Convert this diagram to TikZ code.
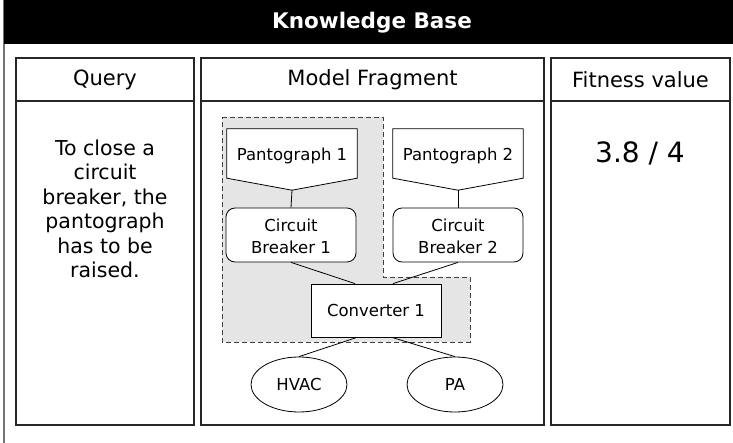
\documentclass[tikz,border=0pt]{standalone}
\usepackage{fontspec}
\setmainfont{DejaVu Sans}
\usetikzlibrary{shapes.geometric,calc}
\begin{document}
\begin{tikzpicture}[x=1pt,y=-1pt,
  panel/.style={draw=black!85,line width=1.2pt},
  hdr/.style={font=\fontsize{21}{24}\selectfont},
  comptext/.style={font=\fontsize{16.5}{22}\selectfont},
  comp/.style={draw,line width=0.8pt,fill=white,comptext,align=center,inner sep=0pt},
  pantobox/.style={minimum width=130pt,minimum height=49pt,inner sep=0pt,comptext},
  pantoshape/.style={line width=0.8pt,fill=white},
  conn/.style={line width=0.8pt},
  region/.style={draw=black!75,dash pattern=on 5pt off 3pt,line width=0.8pt,fill=black!10}
]
\useasboundingbox (0,0) rectangle (733,443);
% outer frame
\draw[draw=black!55,line width=1.5pt] (4,0) rectangle (745,460);
\fill[black] (4,0) rectangle (735,44);
\node[text=white,font=\fontsize{21.5}{24}\selectfont\bfseries] (kb) at (372,23) {Knowledge Base};
% panels
\draw[panel] (16,58) rectangle (194,101);
\draw[panel] (16,101) rectangle (194,425);
\draw[panel] (201,58) rectangle (544,101);
\draw[panel] (201,101) rectangle (544,425);
\draw[panel] (551,58) rectangle (730,101);
\draw[panel] (551,101) rectangle (730,425);
\node[hdr] (hq) at (105,80) {Query};
\node[hdr] (hm) at (372.5,80) {Model Fragment};
\node[hdr] (hf) at (640.5,80) {Fitness value};
\node[font=\fontsize{20.5}{24.5}\selectfont,align=center] (qtext) at (105,209)
  {To close a\\circuit\\breaker, the\\pantograph\\has to be\\raised.};
\node[font=\fontsize{28}{32}\selectfont] (fit) at (640,153) {3.8 / 4};
% region
\draw[region] (222,117) -- (383,117) -- (383,277) -- (470,277) -- (470,342) -- (222,342) -- cycle;
% pantographs
\node[pantobox] (p1) at (292,153.5) {};
\node[pantobox] (p2) at (458,153.5) {};
\coordinate (p1tip) at ($(p1.south)+(0,12)$);
\coordinate (p2tip) at ($(p2.south)+(0,12)$);
\draw[pantoshape] (p1.north west) -- (p1.north east) -- (p1.south east) -- (p1tip) -- (p1.south west) -- cycle;
\draw[pantoshape] (p2.north west) -- (p2.north east) -- (p2.south east) -- (p2tip) -- (p2.south west) -- cycle;
\node[pantobox] (p1t) at (292,156) {Pantograph 1};
\node[pantobox] (p2t) at (458,156) {Pantograph 2};
% breakers
\node[comp,rounded corners=9pt,minimum width=130pt,minimum height=54pt] (cb1) at (291,235) {};
\node[comp,rounded corners=9pt,minimum width=130pt,minimum height=54pt] (cb2) at (458,235) {};
\node[comptext,align=center] (cb1t) at (291,236.5) {Circuit\\Breaker 1};
\node[comptext,align=center] (cb2t) at (458,236.5) {Circuit\\Breaker 2};
\node[comp,minimum width=130pt,minimum height=53pt] (conv) at (376,310.5) {Converter 1};
\node[comp,ellipse,minimum width=96pt,minimum height=55pt] (hvac) at (299,384.5) {HVAC};
\node[comp,ellipse,minimum width=96pt,minimum height=55pt] (pa) at (455,384.5) {PA};
% connectors
\draw[conn] (p1tip) -- (cb1.north);
\draw[conn] (p2tip) -- (cb2.north);
\draw[conn] (cb1.south) -- ([xshift=-21pt]conv.north);
\draw[conn] (cb2.south) -- ([xshift=17pt]conv.north);
\draw[conn] ([xshift=-19pt]conv.south) -- (hvac.north);
\draw[conn] ([xshift=16pt]conv.south) -- (pa.north);
\end{tikzpicture}
\end{document}
